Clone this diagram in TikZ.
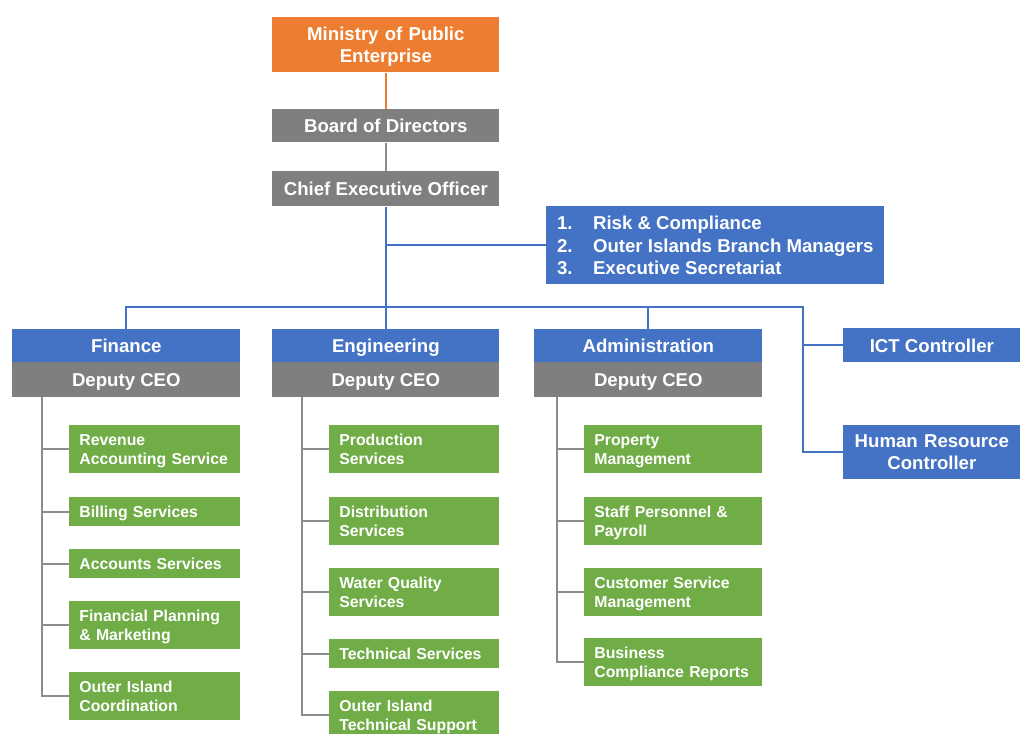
\documentclass[tikz,border=0pt]{standalone}
\usepackage{fontspec}
\setmainfont{Liberation Sans}
\definecolor{oran}{HTML}{ED7D31}
\definecolor{gry}{HTML}{7F7F7F}
\definecolor{blu}{HTML}{4472C4}
\definecolor{grn}{HTML}{70AD47}
\definecolor{lgry}{HTML}{8C8C8C}
\tikzset{
 base/.style={anchor=north west, inner sep=0pt, text=white, text depth=0pt, font=\bfseries\fontsize{10.6}{12.6}\selectfont, align=center},
 obox/.style={base, fill=oran},
 gbox/.style={base, fill=gry},
 bbox/.style={base, fill=blu},
 sub/.style={anchor=north west, inner ysep=0pt, inner xsep=0.2cm, text depth=0pt, fill=grn, text=white, font=\bfseries\fontsize{9}{10.9}\selectfont, align=left},
 subtwo/.style={sub, text depth=10.9pt},
 gline/.style={draw=lgry, line width=1.1pt},
 bline/.style={draw=blu, line width=1.1pt},
 oline/.style={draw=oran, line width=1.1pt},
}
\begin{document}
\begin{tikzpicture}[x=0.02cm,y=-0.02cm]
\useasboundingbox (0,0) rectangle (1020,733);
% top chain
\node[obox, minimum width=4.54cm, minimum height=1.10cm, text width=4.54cm, text depth=12.5pt, font=\bfseries\fontsize{10.6}{12.5}\selectfont] (min) at (272,17) {Ministry of Public\\Enterprise};
\node[gbox, minimum width=4.54cm, minimum height=0.66cm] (bod) at (272,109) {Board of Directors};
\node[gbox, minimum width=4.54cm, minimum height=0.70cm] (ceo) at (272,171) {Chief Executive Officer};
\node[bbox, minimum width=6.76cm, minimum height=1.56cm, align=left, font=\bfseries\fontsize{10.6}{12.6}\selectfont] (lst) at (546,206)
 {\makebox[0.72cm][l]{1.}Risk \& Compliance\\\makebox[0.72cm][l]{2.}Outer Islands Branch Managers\\\makebox[0.72cm][l]{3.}Executive Secretariat};
% departments
\node[bbox, minimum width=4.56cm, minimum height=0.66cm] (fin) at (12,329) {Finance};
\node[gbox, minimum width=4.56cm, minimum height=0.70cm] (fdep) at (12,362) {Deputy CEO};
\node[bbox, minimum width=4.54cm, minimum height=0.66cm] (eng) at (272,329) {Engineering};
\node[gbox, minimum width=4.54cm, minimum height=0.70cm] (edep) at (272,362) {Deputy CEO};
\node[bbox, minimum width=4.56cm, minimum height=0.66cm] (adm) at (534,329) {Administration};
\node[gbox, minimum width=4.56cm, minimum height=0.70cm] (adep) at (534,362) {Deputy CEO};
\node[bbox, minimum width=3.54cm, minimum height=0.68cm] (ict) at (843,328) {ICT Controller};
\node[bbox, minimum width=3.54cm, minimum height=1.08cm, text width=3.54cm, text depth=12.6pt] (hr) at (843,425) {Human Resource\\Controller};
% finance subs
\node[subtwo, text width=3.02cm, minimum height=0.96cm] (f1) at (69,425) {Revenue\\Accounting Service};
\node[sub, text width=3.02cm, minimum height=0.58cm] (f2) at (69,497) {Billing Services};
\node[sub, text width=3.02cm, minimum height=0.58cm] (f3) at (69,549) {Accounts Services};
\node[subtwo, text width=3.02cm, minimum height=0.96cm] (f4) at (69,601) {Financial Planning\\\& Marketing};
\node[subtwo, text width=3.02cm, minimum height=0.96cm] (f5) at (69,672) {Outer Island\\Coordination};
% engineering subs
\node[subtwo, text width=3.00cm, minimum height=0.96cm] (e1) at (329,425) {Production\\Services};
\node[subtwo, text width=3.00cm, minimum height=0.96cm] (e2) at (329,497) {Distribution\\Services};
\node[subtwo, text width=3.00cm, minimum height=0.96cm] (e3) at (329,568) {Water Quality\\Services};
\node[sub, text width=3.00cm, minimum height=0.58cm] (e4) at (329,639) {Technical Services};
\node[subtwo, text width=3.00cm, minimum height=0.96cm] (e5) at (329,691) {Outer Island\\Technical Support};
% administration subs
\node[subtwo, text width=3.16cm, minimum height=0.96cm] (a1) at (584,425) {Property\\Management};
\node[subtwo, text width=3.16cm, minimum height=0.96cm] (a2) at (584,497) {Staff Personnel \&\\Payroll};
\node[subtwo, text width=3.16cm, minimum height=0.96cm] (a3) at (584,568) {Customer Service\\Management};
\node[subtwo, text width=3.16cm, minimum height=0.96cm] (a4) at (584,638) {Business\\Compliance Reports};
% connectors top
\draw[oline] (min) -- (bod);
\draw[gline] (bod) -- (ceo);
\coordinate (busy) at (0,307);
\coordinate (rx) at (803,307);
\draw[bline] (ceo.south) -- (ceo.south |- busy);
\draw[bline] (ceo.south |- lst.west) -- (lst.west);
\draw[bline] (fin.north) |- (rx) |- (hr.west);
\draw[bline] (rx |- ict.west) -- (ict.west);
\draw[bline] (eng.north) -- (eng.north |- busy);
\draw[bline] (adm.north) -- (adm.north |- busy);
% tree connectors
\coordinate (ft) at (42,397);
\coordinate (et) at (302,397);
\coordinate (at) at (557,397);
\draw[gline] (ft) |- (f5.west);
\foreach \n in {f1,f2,f3,f4} \draw[gline] (ft |- \n.west) -- (\n.west);
\draw[gline] (et) |- (e5.west);
\foreach \n in {e1,e2,e3,e4} \draw[gline] (et |- \n.west) -- (\n.west);
\draw[gline] (at) |- (a4.west);
\foreach \n in {a1,a2,a3} \draw[gline] (at |- \n.west) -- (\n.west);
\end{tikzpicture}
\end{document}
